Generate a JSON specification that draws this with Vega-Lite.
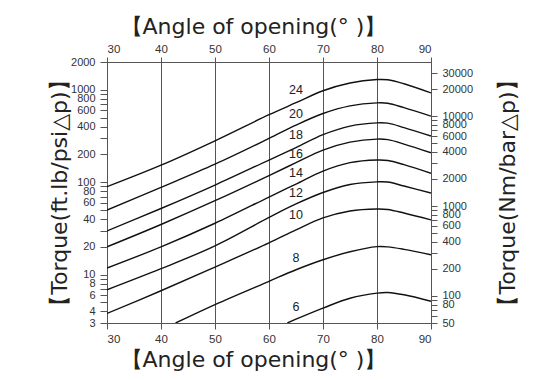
{
  "$schema": "https://vega.github.io/schema/vega-lite/v6.json",
  "width": 324,
  "height": 261,
  "autosize": {"type": "none"},
  "padding": {"left": 107, "top": 62, "right": 114, "bottom": 57},
  "background": "white",
  "config": {
    "view": {"stroke": "#555", "strokeWidth": 1},
    "font": "Liberation Sans"
  },
  "layer": [
    {
      "layer": [
        {
          "data": {"values": [
            {"a":30,"t":89.5,"s":"24"},{"a":40,"t":153,"s":"24"},{"a":50,"t":281,"s":"24"},{"a":60,"t":538,"s":"24"},{"a":65,"t":725,"s":"24"},{"a":70,"t":977,"s":"24"},{"a":75,"t":1186,"s":"24"},{"a":80,"t":1291,"s":"24"},{"a":82,"t":1284,"s":"24"},{"a":85,"t":1163,"s":"24"},{"a":90,"t":925,"s":"24"},
            {"a":30,"t":50.1,"s":"20"},{"a":40,"t":88.1,"s":"20"},{"a":50,"t":157,"s":"20"},{"a":60,"t":298,"s":"20"},{"a":65,"t":415,"s":"20"},{"a":70,"t":554,"s":"20"},{"a":75,"t":670,"s":"20"},{"a":80,"t":722,"s":"20"},{"a":82,"t":716,"s":"20"},{"a":85,"t":641,"s":"20"},{"a":90,"t":519,"s":"20"},
            {"a":30,"t":29.7,"s":"18"},{"a":40,"t":52.0,"s":"18"},{"a":50,"t":93.3,"s":"18"},{"a":60,"t":174,"s":"18"},{"a":65,"t":237,"s":"18"},{"a":70,"t":327,"s":"18"},{"a":75,"t":405,"s":"18"},{"a":80,"t":439,"s":"18"},{"a":82,"t":436,"s":"18"},{"a":85,"t":390,"s":"18"},{"a":90,"t":316,"s":"18"},
            {"a":30,"t":20.0,"s":"16"},{"a":40,"t":34.9,"s":"16"},{"a":50,"t":63.1,"s":"16"},{"a":60,"t":118,"s":"16"},{"a":65,"t":163,"s":"16"},{"a":70,"t":223,"s":"16"},{"a":75,"t":272,"s":"16"},{"a":80,"t":293,"s":"16"},{"a":82,"t":289,"s":"16"},{"a":85,"t":259,"s":"16"},{"a":90,"t":208,"s":"16"},
            {"a":30,"t":11.8,"s":"14"},{"a":40,"t":20.0,"s":"14"},{"a":50,"t":36.0,"s":"14"},{"a":60,"t":69.2,"s":"14"},{"a":65,"t":95.6,"s":"14"},{"a":70,"t":132,"s":"14"},{"a":75,"t":163,"s":"14"},{"a":80,"t":174,"s":"14"},{"a":82,"t":172,"s":"14"},{"a":85,"t":155,"s":"14"},{"a":90,"t":125,"s":"14"},
            {"a":30,"t":6.86,"s":"12"},{"a":40,"t":11.6,"s":"12"},{"a":50,"t":20.5,"s":"12"},{"a":60,"t":41.6,"s":"12"},{"a":65,"t":58.2,"s":"12"},{"a":70,"t":77.4,"s":"12"},{"a":75,"t":94.5,"s":"12"},{"a":80,"t":101,"s":"12"},{"a":82,"t":100.5,"s":"12"},{"a":85,"t":91.0,"s":"12"},{"a":90,"t":76.5,"s":"12"},
            {"a":30,"t":3.81,"s":"10"},{"a":40,"t":6.70,"s":"10"},{"a":50,"t":12.1,"s":"10"},{"a":60,"t":22.1,"s":"10"},{"a":65,"t":30.5,"s":"10"},{"a":70,"t":41.1,"s":"10"},{"a":75,"t":48.9,"s":"10"},{"a":80,"t":51.4,"s":"10"},{"a":82,"t":50.8,"s":"10"},{"a":85,"t":46.5,"s":"10"},{"a":90,"t":39.1,"s":"10"},
            {"a":42.7,"t":3.0,"s":"8"},{"a":50,"t":4.75,"s":"8"},{"a":60,"t":8.48,"s":"8"},{"a":65,"t":11.3,"s":"8"},{"a":70,"t":14.5,"s":"8"},{"a":75,"t":17.7,"s":"8"},{"a":80,"t":20.1,"s":"8"},{"a":82,"t":20.0,"s":"8"},{"a":85,"t":18.8,"s":"8"},{"a":90,"t":16.4,"s":"8"},
            {"a":63.4,"t":3.0,"s":"6"},{"a":65,"t":3.30,"s":"6"},{"a":70,"t":4.35,"s":"6"},{"a":75,"t":5.56,"s":"6"},{"a":80,"t":6.32,"s":"6"},{"a":82,"t":6.42,"s":"6"},{"a":85,"t":6.06,"s":"6"},{"a":90,"t":5.16,"s":"6"}
          ]},
          "mark": {"type": "line", "interpolate": "catmull-rom", "color": "#111", "strokeWidth": 1.4, "clip": true},
          "encoding": {
            "x": {
              "field": "a", "type": "quantitative",
              "scale": {"domain": [30, 90], "nice": false, "zero": false},
              "axis": {
                "orient": "bottom", "values": [30,40,50,60,70,80,90], "format": "d",
                "grid": true, "gridColor": "#555", "gridWidth": 1, "gridOpacity": 1,
                "domain": false, "tickColor": "#555", "tickSize": 6, "labelPadding": 4,
                "labelFont": "Liberation Sans", "labelFontSize": 11.5, "labelColor": "#333",
                "title": "【Angle of opening(° )】", "titleFontSize": 22, "titleFontWeight": "normal",
                "titleFont": "DejaVu Sans", "titleColor": "#222", "titlePadding": 5, "titleX": 146
              }
            },
            "y": {
              "field": "t", "type": "quantitative",
              "scale": {"type": "log", "domain": [3, 2000], "nice": false},
              "axis": {
                "orient": "left",
                "values": [3,4,5,6,7,8,9,10,20,30,40,50,60,70,80,90,100,200,300,400,500,600,700,800,900,1000,2000],
                "format": "d",
                "labelExpr": "indexof([3,4,6,8,10,20,40,60,80,100,200,400,600,800,1000,2000], datum.value) >= 0 ? datum.label : ''",
                "labelOverlap": false, "labelBound": false, "labelFlush": false,
                "grid": false, "domainColor": "#555", "tickColor": "#555", "tickSize": 7, "labelPadding": 5,
                "labelFont": "Liberation Sans", "labelFontSize": 11, "labelColor": "#333",
                "title": "【Torque(ft.lb/psi△p)】", "titleFontSize": 22, "titleFontWeight": "normal",
                "titleFont": "DejaVu Sans", "titleColor": "#222", "titlePadding": -1
              }
            },
            "detail": {"field": "s", "type": "nominal"}
          }
        },
        {
          "data": {"values": [
            {"a":65,"t":1007,"s":"24"},{"a":65,"t":545,"s":"20"},{"a":65,"t":323,"s":"18"},{"a":65,"t":202,"s":"16"},{"a":65,"t":127,"s":"14"},{"a":65,"t":76,"s":"12"},{"a":65,"t":44.3,"s":"10"},{"a":65,"t":15.3,"s":"8"},{"a":65,"t":4.46,"s":"6"}
          ]},
          "mark": {"type": "text", "fontSize": 12.5, "color": "#222", "align": "center", "baseline": "middle", "font": "Liberation Sans"},
          "encoding": {
            "x": {"field": "a", "type": "quantitative"},
            "y": {"field": "t", "type": "quantitative"},
            "text": {"field": "s", "type": "nominal"}
          }
        }
      ]
    },
    {
      "data": {"values": [{"a": 30, "nm": 50}, {"a": 90, "nm": 40000}]},
      "mark": {"type": "point", "opacity": 0},
      "encoding": {
        "x": {
          "field": "a", "type": "quantitative",
          "scale": {"domain": [30, 90], "nice": false, "zero": false},
          "axis": {
            "orient": "top", "values": [30,40,50,60,70,80,90], "format": "d",
            "grid": false, "domain": false, "tickColor": "#555", "tickSize": 5, "labelPadding": 3,
            "labelFont": "Liberation Sans", "labelFontSize": 11.5, "labelColor": "#333",
            "title": "【Angle of opening(° )】", "titleFontSize": 22, "titleFontWeight": "normal",
            "titleFont": "DejaVu Sans", "titleColor": "#222", "titlePadding": 5, "titleX": 146
          }
        },
        "y": {
          "field": "nm", "type": "quantitative",
          "scale": {"type": "log", "domain": [50, 40000], "nice": false},
          "axis": {
            "orient": "right",
            "values": [50,60,70,80,90,100,200,300,400,500,600,700,800,900,1000,2000,3000,4000,5000,6000,7000,8000,9000,10000,20000,30000],
            "format": "d",
            "labelExpr": "indexof([50,80,100,200,400,600,800,1000,2000,4000,6000,8000,10000,20000,30000], datum.value) >= 0 ? datum.label : ''",
            "labelOverlap": false, "labelBound": false, "labelFlush": false,
            "grid": false, "domainColor": "#555", "tickColor": "#555", "tickSize": 6, "labelPadding": 5,
            "labelFont": "Liberation Sans", "labelFontSize": 11, "labelColor": "#333",
            "title": "【Torque(Nm/bar△p)】", "titleFontSize": 22, "titleFontWeight": "normal",
            "titleFont": "DejaVu Sans", "titleColor": "#222", "titlePadding": 25, "titleAngle": 270, "titleBaseline": "top"
          }
        }
      }
    }
  ],
  "resolve": {
    "scale": {"x": "independent", "y": "independent"},
    "axis": {"x": "independent", "y": "independent"}
  }
}
